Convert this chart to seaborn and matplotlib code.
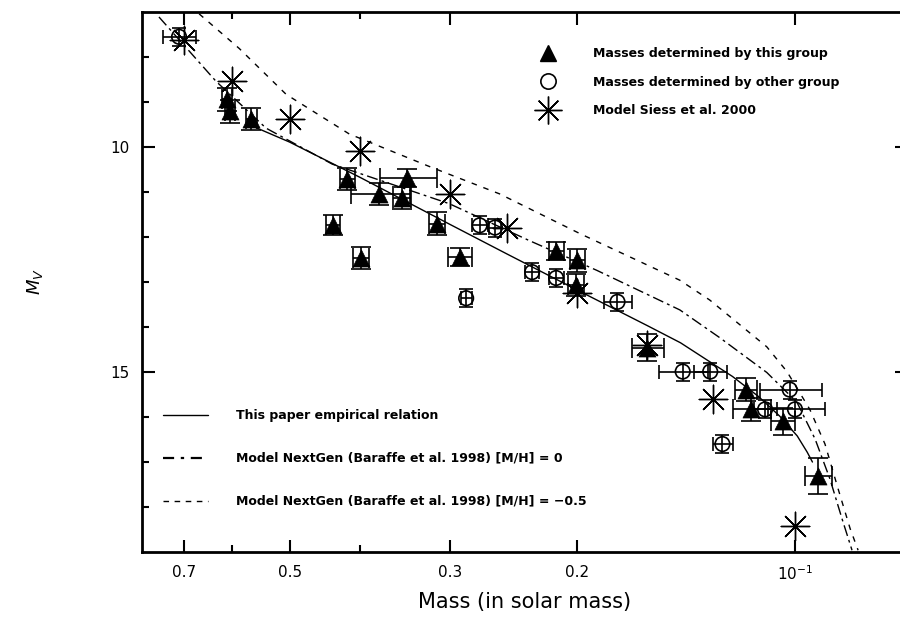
import matplotlib
matplotlib.use('Agg')
import matplotlib.pyplot as plt
from matplotlib.lines import Line2D
from matplotlib.ticker import FixedLocator, FixedFormatter, NullFormatter
import seaborn as sns

# Mass - M_V relation for low mass stars

# Data: masses determined by this group
tri_mass = [0.61, 0.605, 0.565, 0.416, 0.344, 0.376, 0.35, 0.436, 0.398, 0.313,
            0.291, 0.214, 0.20, 0.201, 0.16, 0.117, 0.115, 0.104, 0.093]
tri_mv = [8.94, 9.21, 9.38, 10.71, 10.68, 11.04, 11.13, 11.74, 12.47, 11.70,
          12.45, 12.30, 12.52, 13.07, 14.46, 15.39, 15.83, 16.09, 17.31]
tri_xerr = [0.01, 0.01, 0.01, 0.01, 0.031, 0.035, 0.01, 0.01, 0.01, 0.008,
            0.011, 0.005, 0.005, 0.005, 0.008, 0.004, 0.007, 0.004, 0.004]
tri_yerr = [0.25, 0.25, 0.25, 0.25, 0.2, 0.25, 0.25, 0.22, 0.25, 0.25,
            0.2, 0.2, 0.25, 0.25, 0.3, 0.25, 0.25, 0.3, 0.4]

# masses determined by other group
circ_mass = [0.711, 0.285, 0.273, 0.26, 0.231, 0.214, 0.176, 0.143, 0.131,
             0.1017, 0.10, 0.110, 0.126]
circ_mv = [7.55, 13.36, 11.74, 11.79, 12.78, 12.91, 13.44, 14.99, 14.99,
           15.39, 15.83, 15.83, 16.60]
circ_xerr = [0.037, 0.005, 0.007, 0.005, 0.005, 0.005, 0.008, 0.011, 0.007,
             0.01, 0.009, 0.004, 0.004]
circ_yerr = [0.2, 0.2, 0.2, 0.2, 0.2, 0.2, 0.2, 0.2, 0.2, 0.2, 0.2, 0.2, 0.2]

# Model Siess et al. 2000
siess_mass = [0.7, 0.6, 0.5, 0.4, 0.3, 0.25, 0.2, 0.16, 0.13, 0.1]
siess_mv = [7.62, 8.54, 9.38, 10.09, 11.04, 11.81, 13.25, 14.39, 15.61, 18.43]

# This paper empirical relation
emp_mass = [0.56, 0.50, 0.40, 0.30, 0.25, 0.20, 0.16, 0.144, 0.122, 0.1124,
            0.105, 0.0993, 0.0962, 0.0946]
emp_mv = [9.55, 9.89, 10.67, 11.72, 12.38, 13.18, 13.97, 14.35, 15.10, 15.54,
          15.98, 16.42, 16.78, 17.0]

# NextGen [M/H] = 0
ng0_mass = [0.758, 0.632, 0.539, 0.4365, 0.3006, 0.233, 0.188, 0.1443, 0.127,
            0.1094, 0.0994, 0.0938, 0.0895, 0.0861, 0.0834]
ng0_mv = [7.11, 8.54, 9.58, 10.38, 11.26, 12.08, 12.74, 13.62, 14.24,
          15.01, 15.67, 16.49, 17.37, 18.26, 18.96]

# NextGen [M/H] = -0.5
ng5_mass = [0.667, 0.587, 0.5055, 0.4135, 0.3173, 0.2563, 0.1986, 0.1443,
            0.1312, 0.1094, 0.1026, 0.0954, 0.0909, 0.0872, 0.0839, 0.0818]
ng5_mv = [7.04, 7.81, 8.83, 9.71, 10.46, 11.04, 11.92, 12.96,
          13.40, 14.44, 14.99, 15.83, 16.60, 17.59, 18.48, 18.96]

xticks_major = [0.7, 0.5, 0.3, 0.2, 0.1]
xtick_labels = ['0.7', '0.5', '0.3', '0.2', r'$\mathregular{10^{-1}}$']
xticks_minor = [0.6, 0.4]

# Plot
sns.set_theme(style='ticks', rc={'axes.edgecolor': 'black',
                                 'axes.linewidth': 2.0,
                                 'text.color': 'black',
                                 'axes.labelcolor': 'black',
                                 'xtick.color': 'black',
                                 'ytick.color': 'black',
                                 'xtick.direction': 'in',
                                 'ytick.direction': 'in'})
plt.rcParams['font.family'] = ['DejaVu Sans']

fig = plt.figure(figsize=(9, 6.17), dpi=100)
ax = fig.add_axes([0.1578, 0.1053, 0.85, 0.8752])
ax.set_xscale('log')

sns.lineplot(x=emp_mass, y=emp_mv, ax=ax, color='black', lw=1.0, sort=False,
             estimator=None)
sns.lineplot(x=ng0_mass, y=ng0_mv, ax=ax, color='black', lw=1.0, sort=False,
             estimator=None, linestyle=(0, (8, 3, 2, 3)))
sns.lineplot(x=ng5_mass, y=ng5_mv, ax=ax, color='black', lw=1.0, sort=False,
             estimator=None, linestyle=(0, (4, 5)))

ax.errorbar(tri_mass, tri_mv, xerr=tri_xerr, yerr=tri_yerr, fmt='none',
            ecolor='black', elinewidth=1.2, capsize=7, capthick=1.2)
ax.errorbar(circ_mass, circ_mv, xerr=circ_xerr, yerr=circ_yerr, fmt='none',
            ecolor='black', elinewidth=1.2, capsize=5, capthick=1.2)

sns.scatterplot(x=tri_mass, y=tri_mv, ax=ax, marker='^', s=150,
                color='black', edgecolor='black', linewidth=0.5, zorder=4)
sns.scatterplot(x=circ_mass, y=circ_mv, ax=ax, marker='o', s=110,
                facecolor='none', edgecolor='black', linewidth=1.2, zorder=4)
sns.scatterplot(x=siess_mass, y=siess_mv, ax=ax, marker=(8, 2, 0), s=420,
                color='black', edgecolor='black', linewidth=1.0, zorder=4)

ax.set_xlim(0.8, 0.07)
ax.set_ylim(19, 7)

ax.xaxis.set_major_locator(FixedLocator(xticks_major))
ax.xaxis.set_major_formatter(FixedFormatter(xtick_labels))
ax.xaxis.set_minor_locator(FixedLocator(xticks_minor))
ax.xaxis.set_minor_formatter(NullFormatter())
ax.yaxis.set_major_locator(FixedLocator([10, 15]))
ax.yaxis.set_minor_locator(FixedLocator([8, 9, 11, 12, 13, 14, 16, 17, 18]))
ax.tick_params(which='both', top=True, right=True, direction='in',
               width=1.5, labelsize=11, colors='black')
ax.tick_params(which='major', length=9, pad=9)
ax.tick_params(which='minor', length=5)

ax.set_xlabel('Mass (in solar mass)', fontsize=15, labelpad=6)
ax.set_ylabel(r'$M_V$', fontsize=13, labelpad=47)

h_pts = [Line2D([], [], ls='none', marker='^', ms=12, color='black'),
         Line2D([], [], ls='none', marker='o', ms=11, mfc='none', mec='black', mew=1.2),
         Line2D([], [], ls='none', marker=(8, 2, 0), ms=20, color='black', mew=1.0)]
l_pts = ['Masses determined by this group', 'Masses determined by other group',
         'Model Siess et al. 2000']
leg1 = ax.legend(h_pts, l_pts, loc='upper left', bbox_to_anchor=(0.514, 0.935),
                 frameon=False, handlelength=2, handletextpad=2.6,
                 labelspacing=1.25, borderpad=0, borderaxespad=0,
                 prop={'weight': 'bold', 'size': 9})
ax.add_artist(leg1)

h_lines = [Line2D([], [], color='black', lw=1.0),
           Line2D([], [], color='black', lw=1.6, ls=(0, (5, 3, 1.5, 3))),
           Line2D([], [], color='black', lw=1.0, ls=(0, (4, 4)))]
l_lines = ['This paper empirical relation',
           'Model NextGen (Baraffe et al. 1998) [M/H] = 0',
           'Model NextGen (Baraffe et al. 1998) [M/H] = \u22120.5']
ax.legend(h_lines, l_lines, loc='upper left', bbox_to_anchor=(0.027, 0.265),
          frameon=False, handlelength=3.6, handletextpad=2.3,
          labelspacing=2.4, borderpad=0, borderaxespad=0,
          prop={'weight': 'bold', 'size': 9})

fig.savefig('out.png', dpi=100)
